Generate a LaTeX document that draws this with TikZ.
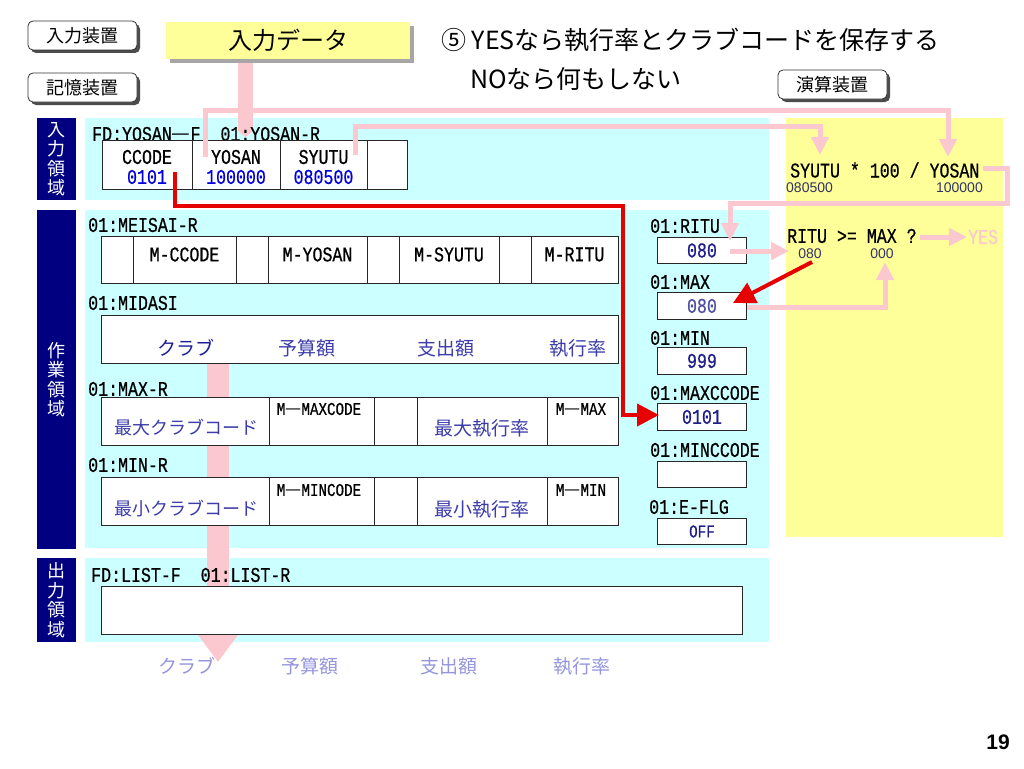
\documentclass[tikz,border=0pt]{standalone}
\usepackage{fontspec}
\setmainfont{Liberation Sans}
\newfontfamily\jp{Noto Sans CJK JP}
\newfontfamily\mono[FakeStretch=0.79,FakeBold=0.6]{Liberation Mono}
\usetikzlibrary{arrows.meta,shadows}
\definecolor{navyc}{RGB}{0,0,128}
\definecolor{cyanc}{RGB}{204,255,255}
\definecolor{yelc}{RGB}{255,255,153}
\definecolor{pinkc}{RGB}{250,200,206}
\definecolor{valblue}{RGB}{0,0,220}
\definecolor{boxblue}{RGB}{30,30,140}
\definecolor{boxblue2}{RGB}{80,80,165}
\definecolor{midblue}{RGB}{60,60,170}
\definecolor{darkblue}{RGB}{30,30,150}
\definecolor{lightblue}{RGB}{150,150,222}
\definecolor{grayblue}{RGB}{50,50,100}
\definecolor{redc}{RGB}{230,0,0}
\newcommand\fsz[1]{\fontsize{#1}{#1}\selectfont}
\newcommand\mkcell[5]{\node[cellbox,minimum width=#4pt,minimum height=#5pt] (#1) at (#2,#3) {};}
\begin{document}
\begin{tikzpicture}[x=1pt,y=-1pt,
  region/.style={inner sep=0pt,anchor=north west},
  cellbox/.style={draw=black!85,line width=0.9pt,fill=white,inner sep=0pt,anchor=north west},
  ml/.style={font=\mono\fsz{21},inner sep=0pt,anchor=west},
  mc/.style={font=\mono\fsz{21},inner sep=0pt},
  ms/.style={font=\mono\fsz{18},inner sep=0pt},
  jt/.style={font=\jp\fsz{19},inner sep=0pt},
  vlab/.style={text=white,font={\jp\fontsize{18}{19.5}\selectfont},align=center,inner sep=0pt},
  btn/.style={draw=black!80,line width=0.8pt,fill=white,rounded corners=5pt,minimum width=109pt,minimum height=29pt,inner sep=0pt,font=\jp\fsz{18},drop shadow={shadow xshift=3pt,shadow yshift=-3pt,fill=black!70,opacity=1}},
  pk/.style={draw=pinkc,line width=5pt,-{Triangle[length=18pt,width=17pt]}},
  rd/.style={draw=redc,line width=4pt,-{Triangle[length=22pt,width=22pt]}}
]
\useasboundingbox (0,0) rectangle (1024,768);
\fill[white] (0,0) rectangle (1024,768);

% buttons
\node[btn] (b1) at (82.5,35.5) {入力装置};
\node[btn] (b2) at (82.5,87.5) {記憶装置};
\node[btn] (b3) at (832.5,84.5) {演算装置};

% input data box
\node[fill=yelc,minimum width=244pt,minimum height=37pt,inner sep=0pt,font=\jp\fsz{24},
  drop shadow={shadow xshift=4pt,shadow yshift=-4pt,fill=black!35,opacity=1}] (indata) at (288,40.5) {入力データ};

% title
\node[inner sep=0pt,anchor=west,font=\jp\fsz{25}] (title1) at (441,40) {⑤ YESなら執行率とクラブコードを保存する};
\node[inner sep=0pt,anchor=west,font=\jp\fsz{25}] (title2) at (470,79) {NOなら何もしない};

% regions
\node[region,fill=navyc,minimum width=39pt,minimum height=82pt] (nv1) at (37,118) {};
\node[region,fill=cyanc,minimum width=684pt,minimum height=82pt] (cy1) at (85,118) {};
\node[region,fill=navyc,minimum width=39pt,minimum height=339pt] (nv2) at (37,210) {};
\node[region,fill=cyanc,minimum width=684pt,minimum height=338pt] (cy2) at (85,210) {};
\node[region,fill=navyc,minimum width=39pt,minimum height=84pt] (nv3) at (37,558) {};
\node[region,fill=cyanc,minimum width=684pt,minimum height=84pt] (cy3) at (85,558) {};
\node[region,fill=yelc,minimum width=217pt,minimum height=419pt] (yr) at (786,118) {};

\node[vlab] (vl1) at (nv1.center) {入\\力\\領\\域};
\node[vlab] (vl2) at (nv2.center) {作\\業\\領\\域};
\node[vlab] (vl3) at (nv3.center) {出\\力\\領\\域};

% thick pink arrows (behind boxes)
\coordinate (t1) at (245.5,63);
\coordinate (t2) at (245.5,137);
\draw[draw=pinkc,line width=15pt,-{Triangle[length=6pt,width=15pt]}] (t1) -- (t2);
\coordinate (t3) at (218,363);
\coordinate (t4) at (218,662);
\draw[draw=pinkc,line width=22pt,-{Triangle[length=27pt,width=38pt]}] (t3) -- (t4);

% input area
\node[ml] (fd1) at (92,134) {FD:YOSAN{\jp —}F\ \ 01:YOSAN-R};
\mkcell{rc1}{102}{140}{90}{49}
\mkcell{rc2}{192}{140}{88}{49}
\mkcell{rc3}{280}{140}{87}{49}
\mkcell{rc4}{367}{140}{40}{49}
\node[mc] (rt1) at (147,157) {CCODE};
\node[mc,text=valblue] (rv1) at (147,177) {0101};
\node[mc] (rt2) at (236,157) {YOSAN};
\node[mc,text=valblue] (rv2) at (236,177) {100000};
\node[mc] (rt3) at (323.5,157) {SYUTU};
\node[mc,text=valblue] (rv3) at (323.5,177) {080500};

% work area: MEISAI
\node[ml] (lmeisai) at (88,225) {01:MEISAI-R};
\mkcell{me1}{101}{236}{32}{47}
\mkcell{me2}{133}{236}{103}{47}
\mkcell{me3}{236}{236}{32}{47}
\mkcell{me4}{268}{236}{99}{47}
\mkcell{me5}{367}{236}{32}{47}
\mkcell{me6}{399}{236}{100}{47}
\mkcell{me7}{499}{236}{32}{47}
\mkcell{me8}{531}{236}{87}{47}
\node[mc] (mt2) at (184.5,254.5) {M-CCODE};
\node[mc] (mt4) at (317.5,254.5) {M-YOSAN};
\node[mc] (mt6) at (449,254.5) {M-SYUTU};
\node[mc] (mt8) at (574.5,254.5) {M-RITU};

% MIDASI
\node[ml] (lmidasi) at (88,303) {01:MIDASI};
\mkcell{mid}{101}{315}{517}{48}
\node[jt,text=darkblue] (md1) at (186,348) {クラブ};
\node[jt,text=midblue] (md2) at (307,348) {予算額};
\node[jt,text=midblue] (md3) at (446,348) {支出額};
\node[jt,text=midblue] (md4) at (578,348) {執行率};

% MAX-R
\node[ml] (lmaxr) at (88,389) {01:MAX-R};
\mkcell{mx1}{101}{397}{168}{48}
\mkcell{mx2}{269}{397}{105}{48}
\mkcell{mx3}{374}{397}{43}{48}
\mkcell{mx4}{417}{397}{130}{48}
\mkcell{mx5}{547}{397}{71}{48}
\node[jt,text=midblue,font=\jp\fsz{18}] (mxt1) at (186,428) {最大クラブコード};
\node[ms] (mxt2) at (319,409) {M{\jp —}MAXCODE};
\node[jt,text=midblue] (mxt4) at (482,428) {最大執行率};
\node[ms] (mxt5) at (581,409) {M{\jp —}MAX};

% MIN-R
\node[ml] (lminr) at (88,465) {01:MIN-R};
\mkcell{mn1}{101}{477}{168}{48}
\mkcell{mn2}{269}{477}{105}{48}
\mkcell{mn3}{374}{477}{43}{48}
\mkcell{mn4}{417}{477}{130}{48}
\mkcell{mn5}{547}{477}{71}{48}
\node[jt,text=midblue,font=\jp\fsz{18}] (mnt1) at (186,509) {最小クラブコード};
\node[ms] (mnt2) at (319,490) {M{\jp —}MINCODE};
\node[jt,text=midblue] (mnt4) at (482,509) {最小執行率};
\node[ms] (mnt5) at (581,490) {M{\jp —}MIN};

% right column
\node[ml] (lritu) at (650,226) {01:RITU};
\mkcell{ritu}{657}{237}{89}{26}
\node[mc,text=boxblue] (vritu) at (ritu.center) {080};
\node[ml] (lmax) at (650,282) {01:MAX};
\mkcell{maxb}{657}{292}{89}{27}
\node[mc,text=boxblue2] (vmax) at (maxb.center) {080};
\node[ml] (lmin) at (650,338) {01:MIN};
\mkcell{minb}{657}{347}{89}{27}
\node[mc,text=boxblue] (vmin) at (minb.center) {999};
\node[ml] (lmaxc) at (650,393) {01:MAXCCODE};
\mkcell{maxc}{657}{403}{89}{27}
\node[mc,text=boxblue] (vmaxc) at (maxc.center) {0101};
\node[ml] (lminc) at (650,450) {01:MINCCODE};
\mkcell{minc}{657}{461}{89}{26}
\node[ml] (leflg) at (649,507) {01:E-FLG};
\mkcell{eflg}{657}{518}{89}{26}
\node[ms,text=boxblue] (veflg) at (eflg.center) {OFF};

% output area
\node[ml] (llist) at (91,575) {FD:LIST-F\ \ 01:LIST-R};
\mkcell{outb}{101}{586}{641}{48}
\node[jt,text=lightblue] (o1) at (187,666) {クラブ};
\node[jt,text=lightblue] (o2) at (310,666) {予算額};
\node[jt,text=lightblue] (o3) at (449,666) {支出額};
\node[jt,text=lightblue] (o4) at (582,666) {執行率};

% formulas
\node[ml] (f1) at (790,170) {SYUTU * 100 / YOSAN};
\node[inner sep=0pt,anchor=west,font=\fsz{14},text=grayblue] (f1a) at (786,188) {080500};
\node[inner sep=0pt,anchor=east,font=\fsz{14},text=grayblue] (f1b) at (983,188) {100000};
\node[ml] (f2) at (787,236) {RITU >= MAX ?};
\node[inner sep=0pt,font=\fsz{14},text=grayblue] (f2a) at (810,254) {080};
\node[inner sep=0pt,font=\fsz{14},text=grayblue] (f2b) at (882,254) {000};
\node[inner sep=0pt,anchor=west,font=\mono\fsz{21},text=pinkc] (yes) at (968,237) {YES};

% thin pink connectors
\coordinate (p1) at (205,157);
\coordinate (p2) at (205,110);
\coordinate (p3) at (948,110);
\coordinate (p4) at (948,157);
\draw[pk] (p1) -- (p2) -- (p3) -- (p4);
\coordinate (q1) at (355,155);
\coordinate (q2) at (355,126);
\coordinate (q3) at (820,126);
\coordinate (q4) at (820,155);
\draw[pk] (q1) -- (q2) -- (q3) -- (q4);
\coordinate (r1) at (983,168);
\coordinate (r2) at (1007,168);
\coordinate (r3) at (1007,203);
\coordinate (r4) at (730,203);
\coordinate (r5) at (730,241);
\draw[pk] (r1) -- (r2) -- (r3) -- (r4) -- (r5);
\coordinate (s1) at (730,251);
\coordinate (s2) at (789,251);
\draw[pk] (s1) -- (s2);
\coordinate (u1) at (747,307);
\coordinate (u2) at (885,307);
\coordinate (u3) at (885,262);
\draw[pk] (u1) -- (u2) -- (u3);
\coordinate (y1) at (920,237);
\coordinate (y2) at (967,237);
\draw[pk] (y1) -- (y2);

% red connectors
\coordinate (k1) at (175,172);
\coordinate (k2) at (175,206);
\coordinate (k3) at (623,206);
\coordinate (k4) at (623,415);
\coordinate (k5) at (659,415);
\draw[rd] (k1) -- (k2) -- (k3) -- (k4) -- (k5);
\coordinate (m1) at (812,262);
\coordinate (m2) at (733,303);
\draw[rd] (m1) -- (m2);

% page number
\node[inner sep=0pt,font=\bfseries\fsz{21}] (pg) at (998,742) {19};
\end{tikzpicture}
\end{document}
